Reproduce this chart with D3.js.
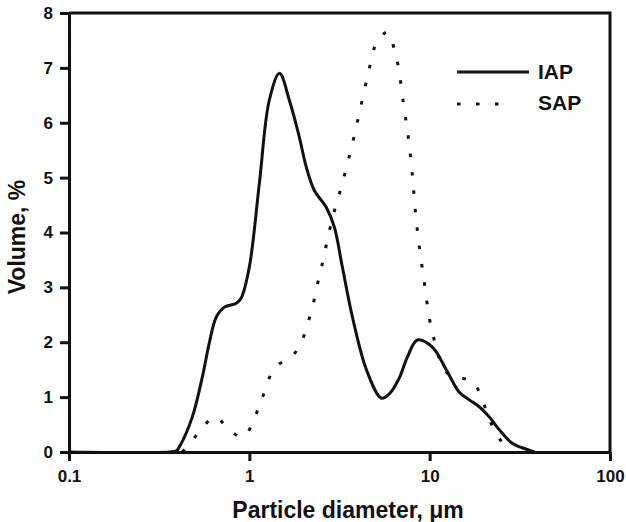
<!DOCTYPE html>
<html>
<head>
<meta charset="utf-8">
<script src="https://cdn.jsdelivr.net/npm/d3@7"></script>
<style>
  html, body { margin: 0; padding: 0; background: #fff; }
  svg text { font-family: "Liberation Sans", Arial, sans-serif; font-weight: bold; fill: #111; }
</style>
</head>
<body>
<svg id="chart" width="626" height="522"></svg>
<script>
// ---- data ----
const seriesNames = ["IAP", "SAP"];
const iapX = [0.1, 0.36, 0.394, 0.409, 0.483, 0.549, 0.600, 0.656, 0.727, 0.847, 0.90, 1.0, 1.137, 1.29, 1.47, 1.667, 1.893, 2.07, 2.29, 2.67, 2.96, 3.28, 3.73, 4.46, 5.40, 5.98, 6.79, 7.52, 8.55, 10.35, 12.4, 14.6, 16.6, 18.9, 21.4, 24.4, 28.7, 34.4, 38];
const iapY = [0, 0, 0.02, 0.09, 0.64, 1.37, 1.99, 2.46, 2.64, 2.71, 2.80, 3.37, 4.90, 6.41, 6.90, 6.41, 5.74, 5.19, 4.77, 4.46, 4.10, 3.37, 2.46, 1.50, 0.98, 1.06, 1.35, 1.73, 2.04, 1.91, 1.49, 1.09, 0.95, 0.82, 0.64, 0.40, 0.16, 0.05, 0];
const sapX = [0.425, 0.465, 0.535, 0.648, 0.755, 0.915, 1.052, 1.137, 1.196, 1.29, 1.43, 1.71, 1.943, 2.10, 2.24, 2.35, 2.48, 2.61, 2.89, 3.28, 3.68, 4.07, 4.51, 4.75, 5.06, 5.82, 6.37, 6.71, 7.15, 7.62, 8.02, 8.33, 8.77, 9.35, 9.96, 10.48, 11.03, 11.9, 13.2, 14.6, 17.25, 19.35, 20.9, 22.85, 25.3, 27.0];
const sapY = [0, 0.13, 0.40, 0.64, 0.44, 0.27, 0.55, 0.87, 1.04, 1.35, 1.58, 1.73, 2.00, 2.33, 2.64, 2.97, 3.28, 3.62, 4.26, 4.90, 5.54, 6.17, 6.83, 7.14, 7.45, 7.65, 7.34, 7.01, 6.36, 5.72, 5.05, 4.39, 3.73, 3.08, 2.44, 2.11, 1.82, 1.53, 1.38, 1.35, 1.29, 1.00, 0.69, 0.40, 0.16, 0];
const xTicks = [0.1, 1, 10, 100];
const xTickLabels = ["0.1", "1", "10", "100"];
const yTicks = [0, 1, 2, 3, 4, 5, 6, 7, 8];
const xTitle = "Particle diameter, \u03BCm";
const yTitle = "Volume, %";

// ---- layout ----
const svg = d3.select("#chart");
const mLeft = 69, mRight = 610, mTop = 13, mBottom = 452;
const x = d3.scaleLog().domain([0.1, 100]).range([mLeft, mRight]);
const y = d3.scaleLinear().domain([0, 8]).range([mBottom, mTop]);
const ink = "#111";

// frame (top and right)
svg.append("path")
  .attr("d", `M${mLeft},${mTop}H${mRight}V${mBottom}`)
  .attr("fill", "none").attr("stroke", ink).attr("stroke-width", 3);

// axes
const yAxis = svg.append("g").attr("transform", `translate(${mLeft},0)`)
  .call(d3.axisLeft(y).tickValues(yTicks).tickFormat(d3.format("d")).tickSize(9).tickSizeOuter(0).tickPadding(7));
const xAxis = svg.append("g").attr("transform", `translate(0,${mBottom})`)
  .call(d3.axisBottom(x).tickValues(xTicks).tickFormat((d, i) => xTickLabels[i]).tickSize(9).tickSizeOuter(0).tickPadding(9));
[xAxis, yAxis].forEach(g => {
  g.select(".domain").attr("stroke", ink).attr("stroke-width", 3);
  g.selectAll(".tick line").attr("stroke", ink).attr("stroke-width", 3);
  g.selectAll(".tick text").attr("fill", ink).style("font-size", "17px")
    .style("font-family", '"Liberation Sans", Arial, sans-serif').style("font-weight", "bold");
});

// lines
const line = d3.line().x(d => x(d[0])).y(d => Math.min(y(d[1]), mBottom)).curve(d3.curveCatmullRom.alpha(0.5));
const iap = iapX.map((v, i) => [v, iapY[i]]);
const sap = sapX.map((v, i) => [v, sapY[i]]);

svg.append("path").datum(sap).attr("d", line)
  .attr("fill", "none").attr("stroke", ink).attr("stroke-width", 3)
  .attr("stroke-dasharray", "3.5,15").attr("stroke-linecap", "butt");
svg.append("path").datum(iap).attr("d", line)
  .attr("fill", "none").attr("stroke", ink).attr("stroke-width", 3);

// legend
svg.append("line").attr("x1", 457).attr("x2", 529).attr("y1", 72).attr("y2", 72)
  .attr("stroke", ink).attr("stroke-width", 3);
svg.append("line").attr("x1", 457).attr("x2", 502).attr("y1", 104).attr("y2", 104)
  .attr("stroke", ink).attr("stroke-width", 3).attr("stroke-dasharray", "3.5,15.5");
svg.append("text").attr("x", 538).attr("y", 79).style("font-size", "21px").text(seriesNames[0]);
svg.append("text").attr("x", 538).attr("y", 110).style("font-size", "21px").text(seriesNames[1]);

// titles
svg.append("text").attr("x", 348).attr("y", 518).attr("text-anchor", "middle")
  .style("font-size", "23px").text(xTitle);
svg.append("text").attr("transform", "translate(25,237) rotate(-90)").attr("text-anchor", "middle")
  .style("font-size", "23px").text(yTitle);
</script>
</body>
</html>
